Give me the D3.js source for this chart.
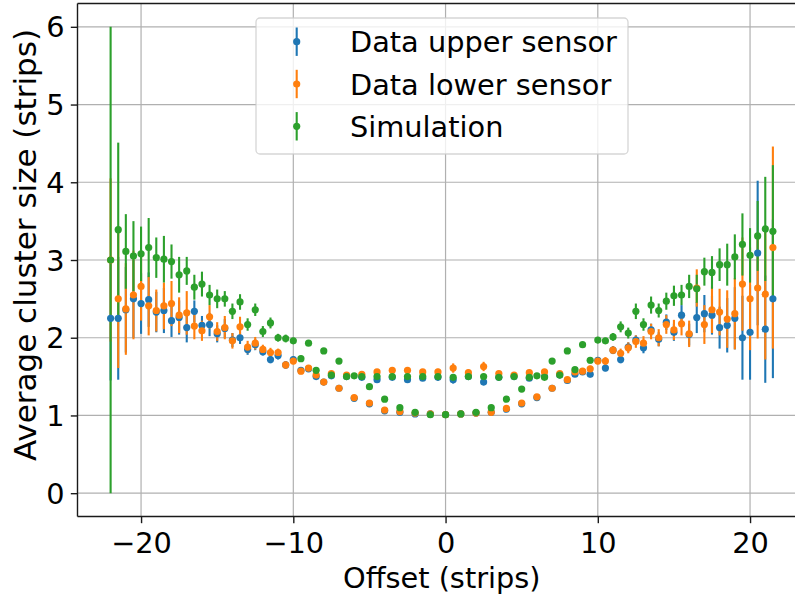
<!DOCTYPE html>
<html>
<head>
<meta charset="utf-8">
<script src="https://cdn.jsdelivr.net/npm/d3@7/dist/d3.min.js"></script>
<style>
  html, body { margin: 0; padding: 0; background: #ffffff; }
  svg { display: block; }
  text { font-family: "DejaVu Sans", sans-serif; fill: #000; }
</style>
</head>
<body>
<svg id="chart" width="795" height="597"></svg>
<script>
// Offset in strips between track and cluster centre
const offsets = [
  -22, -21.5, -21, -20.5, -20, -19.5, -19, -18.5, -18, -17.5,
  -17, -16.5, -16, -15.5, -15, -14.5, -14, -13.5, -13, -12.5,
  -12, -11.5, -11, -10.5, -10, -9.5, -9, -8.5, -8, -7.5,
  -7, -6.5, -6, -5.5, -5, -4.5, -4, -3.5, -3, -2.5,
  -2, -1.5, -1, -0.5, 0, 0.5, 1, 1.5, 2, 2.5,
  3, 3.5, 4, 4.5, 5, 5.5, 6, 6.5, 7, 7.5,
  8, 8.5, 9, 9.5, 10, 10.5, 11, 11.5, 12, 12.5,
  13, 13.5, 14, 14.5, 15, 15.5, 16, 16.5, 17, 17.5,
  18, 18.5, 19, 19.5, 20, 20.5, 21, 21.5
];

// Average cluster size, upper sensor
const upper = [
  2.25, 2.25, 2.36, 2.50, 2.44, 2.49, 2.33, 2.35, 2.22, 2.26,
  2.13, 2.34, 2.16, 2.17, 2.05, 2.12, 1.97, 2.00, 1.85, 1.91,
  1.82, 1.72, 1.77, 1.65, 1.72, 1.58, 1.60, 1.50, 1.43, 1.51,
  1.35, 1.50, 1.22, 1.49, 1.15, 1.46, 1.06, 1.49, 1.04, 1.46,
  1.02, 1.48, 1.02, 1.49, 1.01, 1.46, 1.02, 1.50, 1.03, 1.43,
  1.04, 1.49, 1.08, 1.50, 1.15, 1.48, 1.23, 1.50, 1.35, 1.52,
  1.45, 1.53, 1.56, 1.53, 1.71, 1.61, 1.84, 1.72, 1.88, 1.97,
  1.87, 2.10, 1.98, 2.20, 2.07, 2.29, 2.04, 2.26, 2.31, 2.29,
  2.13, 2.16, 2.25, 2.00, 2.07, 3.09, 2.11, 2.50
];
const upperErr = [
  0.80, 0.79, 0.55, 0.50, 0.39, 0.35, 0.26, 0.29, 0.21, 0.22,
  0.19, 0.14, 0.12, 0.15, 0.11, 0.12, 0.09, 0.08, 0.07, 0.07,
  0.05, 0.05, 0.05, 0.04, 0.04, 0.04, 0.03, 0.03, 0.03, 0.03,
  0.03, 0.03, 0.02, 0.03, 0.02, 0.03, 0.02, 0.03, 0.02, 0.04,
  0.02, 0.03, 0.02, 0.04, 0.02, 0.05, 0.02, 0.03, 0.02, 0.04,
  0.02, 0.03, 0.02, 0.03, 0.02, 0.03, 0.02, 0.03, 0.03, 0.03,
  0.03, 0.03, 0.03, 0.04, 0.04, 0.04, 0.05, 0.05, 0.06, 0.06,
  0.07, 0.08, 0.09, 0.10, 0.11, 0.13, 0.14, 0.20, 0.24, 0.25,
  0.27, 0.35, 0.40, 0.54, 0.61, 0.93, 0.69, 1.02
];

// Average cluster size, lower sensor
const lower = [
  3.00, 2.50, 2.37, 2.55, 2.66, 2.41, 2.35, 2.41, 2.44, 2.29,
  2.32, 2.15, 2.09, 2.27, 2.08, 2.13, 1.96, 2.14, 1.88, 1.93,
  1.85, 1.81, 1.81, 1.65, 1.70, 1.57, 1.61, 1.52, 1.43, 1.54,
  1.35, 1.52, 1.23, 1.53, 1.16, 1.56, 1.07, 1.58, 1.05, 1.58,
  1.03, 1.56, 1.02, 1.56, 1.01, 1.61, 1.02, 1.55, 1.03, 1.63,
  1.04, 1.54, 1.09, 1.52, 1.16, 1.55, 1.24, 1.56, 1.35, 1.54,
  1.46, 1.56, 1.57, 1.60, 1.70, 1.70, 1.84, 1.80, 1.87, 1.95,
  1.93, 2.08, 2.00, 2.17, 2.10, 2.18, 2.05, 2.64, 2.17, 2.36,
  2.33, 2.24, 2.31, 2.69, 2.50, 2.64, 2.56, 3.16
];
const lowerErr = [
  1.05, 0.89, 0.59, 0.57, 0.44, 0.38, 0.27, 0.30, 0.29, 0.23,
  0.28, 0.17, 0.13, 0.15, 0.12, 0.15, 0.10, 0.13, 0.08, 0.08,
  0.06, 0.06, 0.05, 0.05, 0.04, 0.04, 0.03, 0.03, 0.03, 0.03,
  0.03, 0.03, 0.02, 0.03, 0.02, 0.03, 0.02, 0.03, 0.02, 0.04,
  0.02, 0.03, 0.02, 0.04, 0.02, 0.06, 0.02, 0.04, 0.02, 0.06,
  0.02, 0.03, 0.02, 0.03, 0.02, 0.03, 0.02, 0.03, 0.03, 0.03,
  0.03, 0.03, 0.03, 0.04, 0.04, 0.05, 0.05, 0.06, 0.07, 0.08,
  0.09, 0.10, 0.11, 0.12, 0.13, 0.15, 0.17, 0.24, 0.25, 0.30,
  0.30, 0.37, 0.46, 0.60, 0.66, 0.65, 0.84, 1.30
];

// Average cluster size, simulation
const sim = [
  3.00, 3.39, 3.11, 3.05, 3.08, 3.16, 3.03, 3.01, 2.98, 2.81,
  2.86, 2.65, 2.69, 2.55, 2.50, 2.50, 2.34, 2.46, 2.17, 2.36,
  2.08, 2.19, 2.00, 1.99, 1.96, 1.73, 1.93, 1.58, 1.83, 1.52,
  1.70, 1.50, 1.51, 1.50, 1.37, 1.50, 1.21, 1.50, 1.10, 1.50,
  1.04, 1.50, 1.01, 1.50, 1.01, 1.49, 1.02, 1.50, 1.04, 1.50,
  1.10, 1.49, 1.21, 1.50, 1.34, 1.49, 1.51, 1.49, 1.70, 1.52,
  1.83, 1.59, 1.91, 1.71, 1.97, 1.96, 2.01, 2.14, 2.06, 2.34,
  2.17, 2.42, 2.35, 2.47, 2.54, 2.55, 2.66, 2.63, 2.85, 2.84,
  2.94, 2.94, 3.04, 3.20, 3.06, 3.31, 3.40, 3.37
];
const simErr = [
  3.00, 1.12, 0.48, 0.45, 0.35, 0.38, 0.26, 0.30, 0.22, 0.23,
  0.18, 0.16, 0.16, 0.13, 0.12, 0.10, 0.10, 0.10, 0.08, 0.08,
  0.07, 0.07, 0.05, 0.05, 0.04, 0.04, 0.03, 0.03, 0.03, 0.03,
  0.03, 0.02, 0.02, 0.02, 0.02, 0.02, 0.02, 0.02, 0.02, 0.02,
  0.02, 0.02, 0.02, 0.02, 0.02, 0.02, 0.02, 0.02, 0.02, 0.02,
  0.02, 0.02, 0.02, 0.02, 0.02, 0.02, 0.02, 0.02, 0.03, 0.03,
  0.03, 0.03, 0.03, 0.04, 0.04, 0.04, 0.05, 0.07, 0.07, 0.10,
  0.08, 0.11, 0.09, 0.11, 0.13, 0.13, 0.15, 0.18, 0.18, 0.21,
  0.21, 0.27, 0.29, 0.40, 0.35, 0.45, 0.67, 0.85
];

const seriesNames = ["Data upper sensor", "Data lower sensor", "Simulation"];
const seriesColors = ["#1f77b4", "#ff7f0e", "#2ca02c"];
const xTicks = [-20, -10, 0, 10, 20];
const yTicks = [0, 1, 2, 3, 4, 5, 6];

const series = [
  { name: seriesNames[0], color: seriesColors[0], values: upper, errors: upperErr },
  { name: seriesNames[1], color: seriesColors[1], values: lower, errors: lowerErr },
  { name: seriesNames[2], color: seriesColors[2], values: sim, errors: simErr }
];

const FONT = 28.8;

// Plot frame (the right edge of the axes lies just beyond the page)
const plot = { left: 77.5, top: 3.5, right: 806, bottom: 516.5 };

// Data limits with a 5% margin on each side
function padded(lo, hi) {
  const m = (hi - lo) * 0.05;
  return [lo - m, hi + m];
}
const xExt = d3.extent(offsets);
let yLo = Infinity, yHi = -Infinity;
series.forEach(s => s.values.forEach((v, i) => {
  yLo = Math.min(yLo, v - s.errors[i]);
  yHi = Math.max(yHi, v + s.errors[i]);
}));

const x = d3.scaleLinear().domain(padded(xExt[0], xExt[1])).range([plot.left, plot.right]);
const y = d3.scaleLinear().domain(padded(yLo, yHi)).range([plot.bottom, plot.top]);

const svg = d3.select("#chart");
const minus = s => String(s).replace("-", "\u2212");

// Grid
const grid = svg.append("g").attr("stroke", "#b0b0b0").attr("stroke-width", 1.2);
grid.selectAll("line.gx").data(xTicks).join("line")
  .attr("x1", d => x(d)).attr("x2", d => x(d))
  .attr("y1", plot.top).attr("y2", plot.bottom);
grid.selectAll("line.gy").data(yTicks).join("line")
  .attr("x1", plot.left).attr("x2", plot.right)
  .attr("y1", d => y(d)).attr("y2", d => y(d));

// Error bars for every series first, markers on top of all bars
const bars = svg.append("g");
series.forEach(s => {
  bars.append("g").attr("stroke", s.color).attr("stroke-width", 2.1)
    .selectAll("line").data(offsets).join("line")
    .attr("x1", d => x(d)).attr("x2", d => x(d))
    .attr("y1", (d, i) => y(s.values[i] - s.errors[i]))
    .attr("y2", (d, i) => y(s.values[i] + s.errors[i]));
});
const dots = svg.append("g");
series.forEach(s => {
  dots.append("g").attr("fill", s.color)
    .selectAll("circle").data(offsets).join("circle")
    .attr("cx", d => x(d))
    .attr("cy", (d, i) => y(s.values[i]))
    .attr("r", 3.6);
});

// Axes
const xAxis = d3.axisBottom(x).tickValues(xTicks).tickSize(6.7).tickPadding(6).tickFormat(minus);
const yAxis = d3.axisLeft(y).tickValues(yTicks).tickSize(6.7).tickPadding(6).tickFormat(d3.format("d"));

const gx = svg.append("g").attr("transform", `translate(0,${plot.bottom})`).call(xAxis);
const gy = svg.append("g").attr("transform", `translate(${plot.left},0)`).call(yAxis);
[gx, gy].forEach(g => {
  g.select(".domain").remove();
  g.selectAll(".tick line").attr("stroke", "#1a1a1a").attr("stroke-width", 1.4);
  g.selectAll(".tick text").attr("font-family", "DejaVu Sans").attr("font-size", FONT).attr("fill", "#000");
});
gx.selectAll(".tick text").attr("dy", null).attr("y", 36);
gy.selectAll(".tick text").attr("dy", null).attr("x", -13).attr("y", 10);

// Spines: left, bottom, top
const spine = svg.append("g").attr("stroke", "#1a1a1a").attr("stroke-width", 1.4).attr("fill", "none");
spine.append("line").attr("x1", plot.left).attr("x2", plot.left).attr("y1", plot.top).attr("y2", plot.bottom);
spine.append("line").attr("x1", plot.left).attr("x2", plot.right).attr("y1", plot.bottom).attr("y2", plot.bottom);
spine.append("line").attr("x1", plot.left).attr("x2", plot.right).attr("y1", plot.top).attr("y2", plot.top);

// Axis titles
svg.append("text")
  .attr("x", (plot.left + plot.right) / 2).attr("y", 588)
  .attr("text-anchor", "middle").attr("font-size", FONT)
  .text("Offset (strips)");
svg.append("text")
  .attr("transform", "translate(36,245) rotate(-90)")
  .attr("text-anchor", "middle").attr("font-size", 31)
  .text("Average cluster size (strips)");

// Legend
const legend = svg.append("g");
legend.append("rect")
  .attr("x", 256).attr("y", 18).attr("width", 372).attr("height", 136).attr("rx", 4)
  .attr("fill", "#ffffff").attr("fill-opacity", 0.8)
  .attr("stroke", "#cccccc").attr("stroke-opacity", 0.8).attr("stroke-width", 1.3);
const rows = legend.selectAll("g.row").data(series).join("g")
  .attr("transform", (d, i) => `translate(296.7,${41.7 + i * 42.3})`);
rows.append("line").attr("x1", 0).attr("x2", 0).attr("y1", -14.2).attr("y2", 14.2)
  .attr("stroke", d => d.color).attr("stroke-width", 2.1);
rows.append("circle").attr("r", 3.6).attr("fill", d => d.color);
rows.append("text").attr("x", 53.3).attr("y", 10.5).attr("font-size", FONT).text(d => d.name);
</script>
</body>
</html>
